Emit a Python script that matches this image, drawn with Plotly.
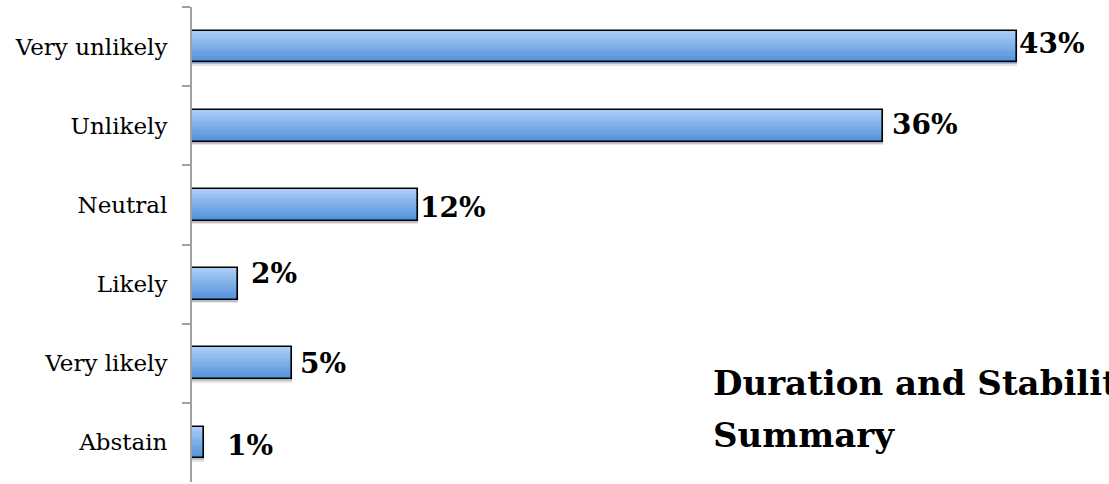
import plotly.graph_objects as go

# ---- data (top-to-bottom reading order) ----
categories = ["Very unlikely", "Unlikely", "Neutral", "Likely", "Very likely", "Abstain"]
values = [43, 36, 11.8, 2.4, 5.2, 0.6]
value_labels = ["43%", "36%", "12%", "2%", "5%", "1%"]
title_lines = ["Duration and Stability", "Summary"]

# ---- styling ----
label_xshift = [0, 7, 0, 11, 6, 21]
label_yshift = [3.5, 1, -3, 11, 0, -3]
BAR_W = 0.4
N_STRIPS = 14
top_rgb = (170, 206, 247)
bot_rgb = (84, 146, 220)
SERIF = "DejaVu Serif"

fig = go.Figure()

# shadow layers
fig.add_trace(go.Bar(y=categories, x=values, orientation="h",
                     offset=-BAR_W / 2 + 0.045, width=BAR_W,
                     marker=dict(color="rgba(0,0,0,0.10)", line=dict(width=0)),
                     hoverinfo="skip", showlegend=False))
fig.add_trace(go.Bar(y=categories, x=values, orientation="h",
                     offset=-BAR_W / 2 + 0.025, width=BAR_W,
                     marker=dict(color="rgba(0,0,0,0.15)", line=dict(width=0)),
                     hoverinfo="skip", showlegend=False))

# gradient strips
sw = BAR_W / N_STRIPS
for i in range(N_STRIPS):
    t = i / (N_STRIPS - 1)
    r, g, b = (round(top_rgb[k] + (bot_rgb[k] - top_rgb[k]) * t) for k in range(3))
    col = f"rgb({r},{g},{b})"
    fig.add_trace(go.Bar(y=categories, x=values, orientation="h",
                         offset=-BAR_W / 2 + i * sw, width=sw * 1.05,
                         marker=dict(color=col, line=dict(width=0.6, color=col)),
                         hoverinfo="skip", showlegend=False))

# outline
fig.add_trace(go.Bar(y=categories, x=values, orientation="h",
                     offset=-BAR_W / 2, width=BAR_W,
                     marker=dict(color="rgba(0,0,0,0)", line=dict(width=1.6, color="black")),
                     hoverinfo="skip", showlegend=False))

# value labels
for cat, v, lab, dx, dy in zip(categories, values, value_labels, label_xshift, label_yshift):
    fig.add_annotation(x=v, y=cat, text=lab, showarrow=False, xanchor="left",
                       yanchor="middle", xshift=dx, yshift=dy,
                       font=dict(family=SERIF, size=28, color="black", weight="bold"))

# title (two lines)
fig.add_annotation(xref="paper", yref="paper", x=0.566, y=0.209, text=title_lines[0],
                   showarrow=False, xanchor="left", yanchor="middle",
                   font=dict(family=SERIF, size=34, color="black", weight="bold"))
fig.add_annotation(xref="paper", yref="paper", x=0.566, y=0.100, text=title_lines[1],
                   showarrow=False, xanchor="left", yanchor="middle",
                   font=dict(family=SERIF, size=34, color="black", weight="bold"))

fig.update_layout(
    width=1109, height=484,
    margin=dict(l=192, r=0, t=7, b=2, autoexpand=False),
    paper_bgcolor="white", plot_bgcolor="white",
    barmode="overlay", bargap=0,
    showlegend=False,
    xaxis=dict(visible=False, range=[0, 47.8], fixedrange=True, automargin=False),
    yaxis=dict(
        type="category", categoryorder="array", categoryarray=categories,
        autorange="reversed", automargin=False, fixedrange=True,
        showline=True, linecolor="#a0a0a0", linewidth=2,
        ticks="outside", ticklen=8, tickwidth=1.5, tickcolor="#a0a0a0",
        tickson="boundaries", showgrid=False, zeroline=False,
        ticklabelstandoff=18,
        tickfont=dict(family=SERIF, size=23, color="black"),
    ),
)

fig.write_html("out.html", config={"displayModeBar": False},
               post_script="document.body.style.margin='0';")
